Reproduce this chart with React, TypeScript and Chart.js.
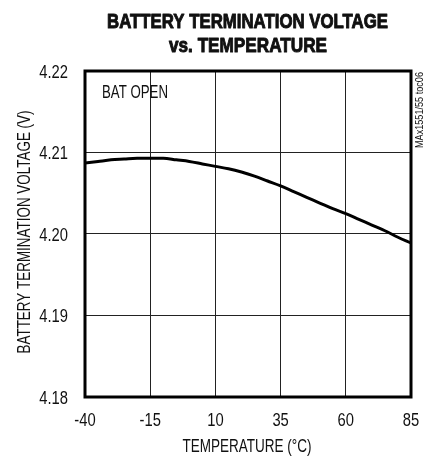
import React, { useEffect, useRef } from "react";
import { Chart, registerables } from "chart.js";

Chart.register(...registerables);

const TEMPS = [-40, -35, -30, -25, -20, -15, -10, -5, 0, 5, 10, 15, 20, 25, 30, 35, 40, 45, 50, 55, 60, 65, 70, 75, 80, 85];
const VBATT = [4.2087, 4.2089, 4.2091, 4.2092, 4.2093, 4.2093, 4.2093, 4.2091, 4.2089, 4.2086, 4.2083, 4.2080, 4.2076, 4.2071, 4.2065, 4.2059, 4.2052, 4.2045, 4.2038, 4.2031, 4.2025, 4.2018, 4.2011, 4.2004, 4.1996, 4.1989];
const X_TICKS = [-40, -15, 10, 35, 60, 85];
const Y_TICKS = [4.18, 4.19, 4.2, 4.21, 4.22];

const TITLE_1 = "BATTERY TERMINATION VOLTAGE";
const TITLE_2 = "vs. TEMPERATURE";
const X_TITLE = "TEMPERATURE (°C)";
const Y_TITLE = "BATTERY TERMINATION VOLTAGE (V)";
const NOTE = "BAT OPEN";
const SIDE_NOTE = "MAx1551/55 toc06";

const FAMILY = "'Liberation Sans', Arial, sans-serif";
const NARROW_SCALE = 0.82;

function drawText(
  ctx: CanvasRenderingContext2D,
  text: string,
  x: number,
  y: number,
  font: string,
  opts: { width?: number; scale?: number; rotate?: boolean; align?: CanvasTextAlign; stroke?: number }
) {
  ctx.save();
  ctx.font = font;
  const w = ctx.measureText(text).width;
  const s = opts.width ? opts.width / w : opts.scale ?? 1;
  ctx.translate(x, y);
  if (opts.rotate) ctx.rotate(-Math.PI / 2);
  ctx.scale(s, 1);
  ctx.textAlign = opts.align ?? "center";
  ctx.textBaseline = "alphabetic";
  ctx.fillStyle = "#111";
  ctx.fillText(text, 0, 0);
  if (opts.stroke) {
    ctx.strokeStyle = "#111";
    ctx.lineWidth = opts.stroke;
    ctx.lineJoin = "round";
    ctx.strokeText(text, 0, 0);
  }
  ctx.restore();
}

const decorPlugin = {
  id: "decor",
  afterDraw(chart: any) {
    const ctx = chart.ctx as CanvasRenderingContext2D;
    const a = chart.chartArea;
    ctx.save();
    ctx.strokeStyle = "#000";
    ctx.lineWidth = 3;
    ctx.strokeRect(a.left, a.top, a.right - a.left, a.bottom - a.top);
    ctx.restore();

    const xs = chart.scales.x;
    const ys = chart.scales.y;
    const tickFont = `18px ${FAMILY}`;
    xs.ticks.forEach((t: any) => {
      drawText(ctx, String(t.value), xs.getPixelForValue(t.value), 426, tickFont, { scale: NARROW_SCALE });
    });
    ys.ticks.forEach((t: any) => {
      drawText(ctx, Number(t.value).toFixed(2), 68, ys.getPixelForValue(t.value) + 6.5, tickFont, {
        scale: NARROW_SCALE,
        align: "right",
      });
    });

    drawText(ctx, TITLE_1, 247.5, 28, `bold 21px ${FAMILY}`, { width: 281, stroke: 1 });
    drawText(ctx, TITLE_2, 248, 52, `bold 21px ${FAMILY}`, { width: 158, stroke: 1 });
    drawText(ctx, X_TITLE, 247, 452, `18px ${FAMILY}`, { width: 129 });
    drawText(ctx, Y_TITLE, 30, 232, `18px ${FAMILY}`, { width: 243, rotate: true });
    drawText(ctx, NOTE, 102, 98, `18px ${FAMILY}`, { width: 66, align: "left" });
    drawText(ctx, SIDE_NOTE, 423, 110, `10px ${FAMILY}`, { width: 76, rotate: true });
  },
};

export default function App() {
  const ref = useRef<HTMLCanvasElement>(null);
  useEffect(() => {
    if (!ref.current) return;
    const chart = new Chart(ref.current, {
      type: "line",
      data: {
        datasets: [
          {
            data: TEMPS.map((t, i) => ({ x: t, y: VBATT[i] })),
            borderColor: "#000",
            borderWidth: 3,
            pointRadius: 0,
            cubicInterpolationMode: "monotone",
            fill: false,
          },
        ],
      },
      options: {
        responsive: false,
        animation: false,
        layout: { padding: { top: 71, right: 23, left: 0, bottom: 0 } },
        plugins: { legend: { display: false }, tooltip: { enabled: false }, title: { display: false } },
        scales: {
          x: {
            type: "linear",
            min: -40,
            max: 85,
            afterBuildTicks: (s: any) => {
              s.ticks = X_TICKS.map((v) => ({ value: v }));
            },
            afterFit: (s: any) => {
              s.height = 59;
            },
            grid: { color: "#222", lineWidth: 1, drawTicks: false },
            border: { display: false },
            ticks: { display: false },
          },
          y: {
            type: "linear",
            min: 4.18,
            max: 4.22,
            afterBuildTicks: (s: any) => {
              s.ticks = Y_TICKS.map((v) => ({ value: v }));
            },
            afterFit: (s: any) => {
              s.width = 85;
            },
            grid: { color: "#222", lineWidth: 1, drawTicks: false },
            border: { display: false },
            ticks: { display: false },
          },
        },
      },
      plugins: [decorPlugin],
    });
    return () => chart.destroy();
  }, []);
  return (
    <div style={{ position: "fixed", left: 0, top: 0, width: 434, height: 456, background: "#fff" }}>
      <canvas ref={ref} width={434} height={456} style={{ display: "block", width: 434, height: 456 }} />
    </div>
  );
}
